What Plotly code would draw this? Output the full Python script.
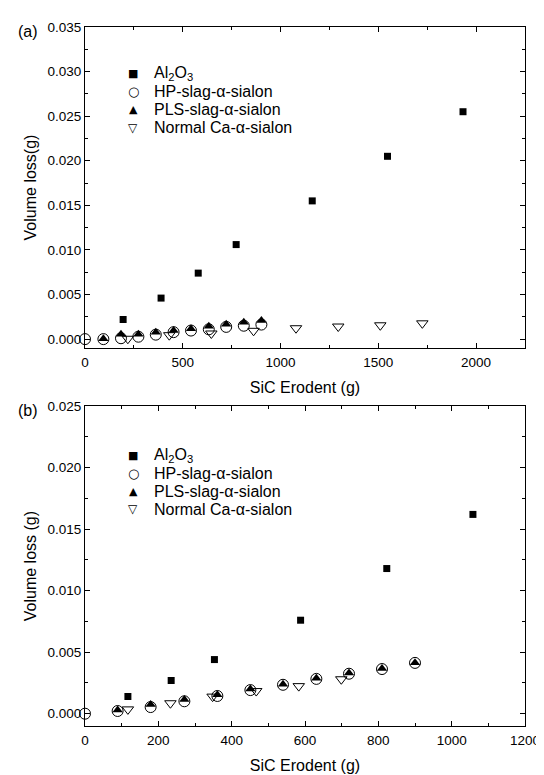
import plotly.graph_objects as go

# ---------------- data ----------------
# Panel (a)
al_a_x = [195, 389, 579, 773, 1162, 1547, 1933]
al_a_y = [0.0022, 0.0046, 0.0074, 0.0106, 0.0155, 0.0205, 0.0255]
hp_a_x = [0, 94, 184, 273, 362, 453, 542, 633, 722, 812, 902]
hp_a_y = [0.0, 0.0, 0.0001, 0.00027, 0.0005, 0.00078, 0.00096, 0.0011, 0.00137, 0.0015, 0.00163]
pls_a_x = [94, 184, 273, 362, 453, 542, 633, 722, 812, 902]
pls_a_y = [0.00004, 0.00055, 0.00055, 0.00078, 0.00096, 0.00115, 0.00144, 0.00166, 0.00188, 0.0021]
nor_a_x = [219, 431, 646, 862, 1079, 1295, 1510, 1725]
nor_a_y = [0.00004, 0.00044, 0.00063, 0.00093, 0.00122, 0.00141, 0.00155, 0.00177]

# Panel (b)
al_b_x = [117, 235, 353, 588, 823, 1058]
al_b_y = [0.0014, 0.0027, 0.0044, 0.0076, 0.0118, 0.0162]
hp_b_x = [0, 89, 179, 271, 361, 451, 540, 631, 720, 810, 900]
hp_b_y = [0.0, 0.00022, 0.00054, 0.00101, 0.00144, 0.00192, 0.00235, 0.00283, 0.00325, 0.00363, 0.00413]
pls_b_x = [89, 179, 271, 361, 451, 540, 631, 720, 810, 900]
pls_b_y = [0.0003, 0.00075, 0.00115, 0.00155, 0.0020, 0.0024, 0.00288, 0.0033, 0.00367, 0.00415]
nor_b_x = [117, 233, 348, 467, 583, 699]
nor_b_y = [0.00035, 0.00085, 0.00139, 0.00184, 0.00224, 0.0028]

names = ["Al<sub>2</sub>O<sub>3</sub>", "HP-slag-\u03b1-sialon",
         "PLS-slag-\u03b1-sialon", "Normal Ca-\u03b1-sialon"]
legend_glyphs = ["\u25a0", "\u25cb", "\u25b2", "\u25bd"]

FONT = "Liberation Sans, Arial, Helvetica, sans-serif"
SYMFONT = "DejaVu Sans, sans-serif"

styles = [
    dict(symbol="square", size=7, color="black"),
    dict(symbol="circle-open", size=11, color="black", line=dict(width=1, color="black")),
    dict(symbol="triangle-up", size=9, color="black"),
    dict(symbol="triangle-down-open", size=10, color="black", line=dict(width=1, color="black")),
]

fig = go.Figure()
panel_a = [(al_a_x, al_a_y), (hp_a_x, hp_a_y), (pls_a_x, pls_a_y), (nor_a_x, nor_a_y)]
panel_b = [(al_b_x, al_b_y), (hp_b_x, hp_b_y), (pls_b_x, pls_b_y), (nor_b_x, nor_b_y)]

for (xs, ys), nm, st in zip(panel_a, names, styles):
    fig.add_trace(go.Scatter(x=xs, y=ys, mode="markers", name=nm, marker=st,
                             xaxis="x", yaxis="y", showlegend=False, cliponaxis=False))
for (xs, ys), nm, st in zip(panel_b, names, styles):
    fig.add_trace(go.Scatter(x=xs, y=ys, mode="markers", name=nm, marker=st,
                             xaxis="x2", yaxis="y2", showlegend=False, cliponaxis=False))

axis_common = dict(showline=True, linecolor="black", linewidth=1, mirror="allticks",
                   ticks="inside", ticklen=5, tickwidth=1, tickcolor="black",
                   showgrid=False, zeroline=False,
                   tickfont=dict(family=FONT, size=13.5, color="black"),
                   title_font=dict(family=FONT, size=16, color="black"))

minor_common = dict(ticks="inside", ticklen=3, tickwidth=1, tickcolor="black", showgrid=False)

W, H = 544, 775
L, R, T, B = 77, 21, 16, 52
pw, ph = W - L - R, H - T - B
def px_to_paper(px, py):
    return (px - L) / pw, 1 - (py - T) / ph

ya_lo = px_to_paper(0, 340.7)[1]
yb_hi = px_to_paper(0, 399.5)[1]

fig.update_layout(
    width=W, height=H,
    paper_bgcolor="white", plot_bgcolor="white",
    margin=dict(l=L, r=R, t=T, b=B),
    font=dict(family=FONT, size=13.5, color="black"),
    xaxis=dict(axis_common, domain=[0, 1], anchor="y", range=[0, 2250], dtick=500, tick0=0,
               minor=dict(minor_common, dtick=250), ticklabelstandoff=2,
               title=dict(text="SiC Erodent (g)", standoff=12)),
    yaxis=dict(axis_common, domain=[ya_lo, 1], anchor="x", range=[-0.001, 0.035], dtick=0.005,
               tick0=0, tickformat=".3f", minor=dict(minor_common, dtick=0.0025),
               title=dict(text="Volume loss(g)", standoff=6)),
    xaxis2=dict(axis_common, domain=[0, 1], anchor="y2", range=[0, 1200], dtick=200, tick0=0,
                minor=dict(minor_common, dtick=100), ticklabelstandoff=2,
                title=dict(text="SiC Erodent (g)", standoff=12)),
    yaxis2=dict(axis_common, domain=[0, yb_hi], anchor="x2", range=[-0.001, 0.025], dtick=0.005,
                tick0=0, tickformat=".3f", minor=dict(minor_common, dtick=0.0025),
                title=dict(text="Volume loss (g)", standoff=6)),
)

# panel labels
for txt, (px, py) in [("(a)", (19, 21)), ("(b)", (19, 404))]:
    x, y = px_to_paper(px, py)
    fig.add_annotation(text=txt, x=x, y=y, xref="paper", yref="paper", showarrow=False,
                       xanchor="center", yanchor="middle",
                       font=dict(family=FONT, size=16, color="black"))

# legends (one per panel), drawn as text entries
sym_sizes = [11, 13, 11, 12]
for top in (63, 449):
    for i, (g, nm) in enumerate(zip(legend_glyphs, names)):
        py = top + i * 18.3
        sx, sy = px_to_paper(126, py)
        tx, ty = px_to_paper(145, py)
        fig.add_annotation(text=g, x=sx, y=sy, xref="paper", yref="paper", showarrow=False,
                           xanchor="center", yanchor="middle",
                           font=dict(family=SYMFONT, size=sym_sizes[i], color="black"))
        fig.add_annotation(text=nm, x=tx, y=ty, xref="paper", yref="paper", showarrow=False,
                           xanchor="left", yanchor="middle",
                           font=dict(family=FONT, size=16, color="black"))

fig.write_html("out.html")
